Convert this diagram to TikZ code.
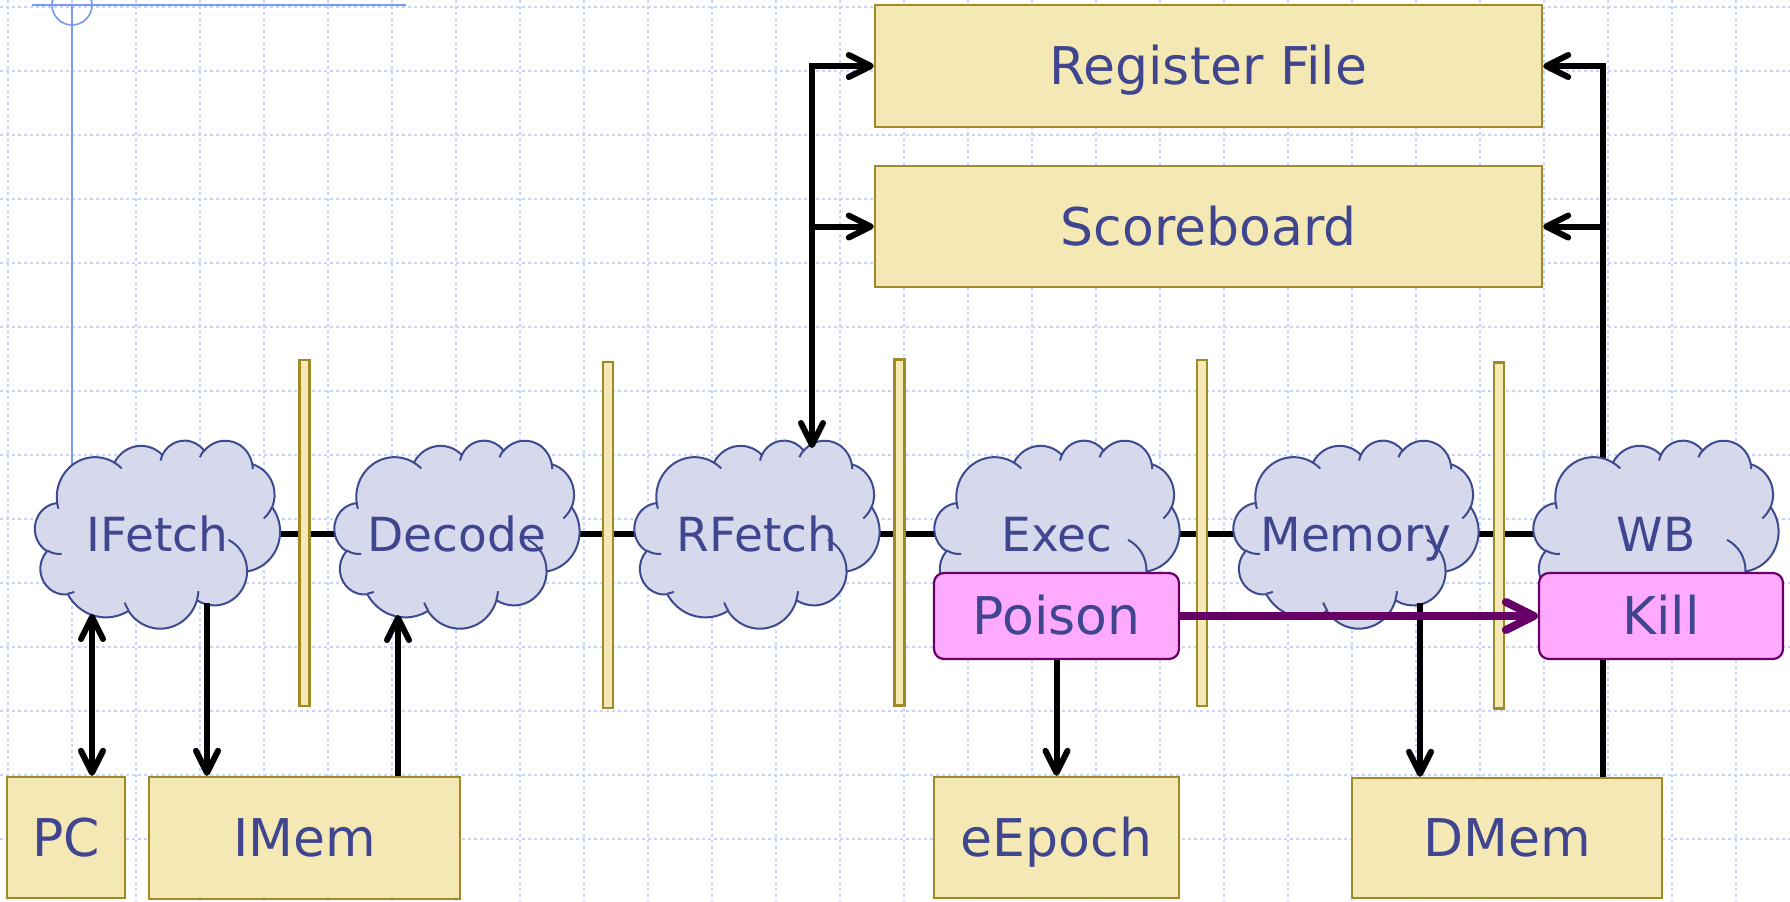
\documentclass[tikz,border=0pt]{standalone}
\usepackage{fontspec}
\setmainfont{DejaVu Sans}
\usetikzlibrary{arrows.meta}

\definecolor{gridblue}{HTML}{C8D4F8}
\definecolor{guideblue}{HTML}{7B9BF0}
\definecolor{unitfill}{HTML}{F4E8B4}
\definecolor{unitline}{HTML}{A08A28}
\definecolor{stagefill}{HTML}{D6D8EC}
\definecolor{stageline}{HTML}{3D4A8F}
\definecolor{labelblue}{HTML}{404590}
\definecolor{flagfill}{HTML}{FFAAFF}
\definecolor{plum}{HTML}{660066}

% one elliptical arc of the cloud outline: x radius, y radius, start and sweep
% given as visual angles, turned into the parametric angles that TikZ uses
\newcommand\puff[4]{%
  arc[x radius=#1, y radius=#2,
      start angle={atan2(#1*sin(#3),#2*cos(#3))},
      delta angle={Mod(atan2(#1*sin(#3+#4),#2*cos(#3+#4))-atan2(#1*sin(#3),#2*cos(#3)),360)}]}

% cloud outline in a 43.2 x 43.2 frame, centred on the given coordinate
\newcommand\stagecloud[1]{%
  \begin{scope}[shift={#1}, x=2.83565pt, y=-2.17593pt, shift={(-21.6,-21.6)}]
    \filldraw[stageedge] (3.900,14.370)
      \puff{6.753}{9.190}{-190.4875}{123.7805}
      \puff{5.333}{7.267}{-144.1024}{89.9452}
      \puff{4.365}{5.945}{-145.8079}{99.7230}
      \puff{4.857}{6.595}{-130.9861}{117.2417}
      \puff{5.333}{7.273}{-78.7089}{109.0269}
      \puff{6.775}{9.220}{-46.2673}{130.2690}
      \puff{5.785}{7.867}{0.6250}{114.0333}
      \puff{6.752}{9.215}{22.4516}{115.1726}
      \puff{7.720}{10.543}{66.2426}{75.7110}
      \puff{4.360}{5.918}{-274.9421}{146.7356}
      \puff{4.345}{5.945}{-246.8285}{152.5189} -- cycle;
    \draw[stageedge, fill=none]
      (4.693,26.177) \puff{4.345}{5.945}{86.7420}{26.4295}
      (6.928,34.899) \puff{4.360}{5.918}{73.6105}{11.4475}
      (16.478,39.090) \puff{6.752}{9.215}{137.6242}{14.0811}
      (28.827,34.751) \puff{6.752}{9.215}{6.4533}{15.9984}
      (34.129,22.954) \puff{5.785}{7.867}{-70.2924}{70.9174}
      (41.798,15.354) \puff{5.333}{7.273}{30.3180}{27.7515}
      (38.324,5.426) \puff{4.857}{6.595}{-13.7443}{14.8589}
      (29.078,3.952) \puff{4.857}{6.595}{-149.1815}{18.1954}
      (22.141,4.720) \puff{4.365}{5.945}{-163.4943}{17.6864}
      (14.000,5.192) \puff{6.753}{9.190}{-66.7070}{12.3194}
      (4.127,15.789) \puff{6.753}{9.190}{157.6544}{11.8582};
  \end{scope}}

\tikzset{
  gridline/.style={gridblue, line width=0.7pt, dash pattern=on 1.5pt off 1.5pt},
  guide/.style={guideblue, line width=0.85pt},
  stageedge/.style={draw=stageline, fill=stagefill, line width=1pt},
  unit/.style={draw=unitline, fill=unitfill, line width=1.2pt, text=labelblue,
    font=\fontsize{26}{31}\selectfont, inner sep=0pt, text height=18.95pt, text depth=0pt},
  flag/.style={draw=plum, fill=flagfill, line width=1.1pt, rounded corners=5pt,
    text=labelblue, font=\fontsize{26}{31}\selectfont, inner sep=0pt,
    text height=18.95pt, text depth=0pt, minimum height=43pt},
  stagelabel/.style={text=labelblue, font=\fontsize{23.5}{28}\selectfont,
    inner sep=0pt, text height=17.1pt, text depth=0pt},
  latch/.style={draw=unitline, fill=unitfill, line width=1.2pt, inner sep=0pt,
    minimum width=5pt, minimum height=173pt},
  wire/.style={black, line width=2.8pt},
  barb/.tip={Straight Barb[length=11pt, width=11pt, round]},
  arr/.style={wire, line width=3pt, -barb},
  arrs/.style={wire, line width=3pt, barb-barb},
  squash/.style={plum, line width=4pt, -{Straight Barb[length=14pt, width=14pt, round]}},
}

\begin{document}
\begin{tikzpicture}[x=0.5pt, y=-0.5pt]
\useasboundingbox (0,0) rectangle (1790,901);
\fill[white] (0,0) rectangle (1790,901);

% background grid
\foreach \gx in {0,...,27} \draw[gridline] ({8+64*\gx},0) -- ({8+64*\gx},901);
\foreach \gy in {0,...,13} \draw[gridline] (0,{7+64*\gy}) -- (1790,{7+64*\gy});

% stage centres
\coordinate (c1) at (157.5,534);
\coordinate (c2) at (457,534);
\coordinate (c3) at (757,534);
\coordinate (c4) at (1057,534);
\coordinate (c5) at (1356,534);
\coordinate (c6) at (1656,534);

% guide lines
\coordinate (g0) at (72,5);
\draw[guide] (32,5) -- (406,5);
\draw[guide] (g0) circle[radius=20];
\draw[guide] (g0) -- (g0 |- c1);

% state elements
\node[unit, minimum width=333.5pt, minimum height=61pt] (rf) at (1208.5,66) {Register File};
\node[unit, minimum width=333.5pt, minimum height=60.5pt] (sb) at (1208.5,226.5) {Scoreboard};
\node[unit, minimum width=59pt, minimum height=60.5pt] (pc) at (66,837.5) {PC};
\node[unit, minimum width=155.5pt, minimum height=61pt] (imem) at (304.5,838) {IMem};
\node[unit, minimum width=122.5pt, minimum height=60.5pt] (eepoch) at (1056.5,837.5) {eEpoch};
\node[unit, minimum width=155pt, minimum height=60pt] (dmem) at (1507,838) {DMem};

% pipeline backbone and write-back bus (behind the stages)
\draw[wire] (c1) -- (c6);
\coordinate (busR) at (1603,66);
\draw[arr] (dmem.north -| busR) |- (rf.east);
\draw[arr] (busR |- sb.east) -- (sb.east);

% stages
\stagecloud{(c1)}
\stagecloud{(c2)}
\stagecloud{(c3)}
\stagecloud{(c4)}
\stagecloud{(c5)}
\stagecloud{(c6)}
\node[stagelabel] (ifetch) at (c1) {IFetch};
\node[stagelabel] (decode) at (c2) {Decode};
\node[stagelabel] (rfetch) at (c3) {RFetch};
\node[stagelabel] (exec) at (c4) {Exec};
\node[stagelabel] (memory) at (c5) {Memory};
\node[stagelabel] (wb) at (c6) {WB};

% pipeline registers
\node[latch] (latch1) at (304.5,533) {};
\node[latch] (latch2) at (608,535) {};
\node[latch] (latch3) at (899.5,532.5) {};
\node[latch] (latch4) at (1202,533) {};
\node[latch] (latch5) at (1499,535.5) {};

% poison / kill
\node[flag, minimum width=122.5pt] (poison) at (1056.5,616) {Poison};
\node[flag, minimum width=122pt] (kill) at (1661,616) {Kill};

% register fetch bus
\coordinate (rfin) at (812,448);
\draw[arrs] (rf.west) -| (rfin);
\draw[arr] (rfin |- sb.west) -- (sb.west);

% memory ports
\coordinate (pcin) at (92,614);
\coordinate (imout) at (207,603);
\coordinate (decin) at (398,615);
\coordinate (memout) at (1420,603);
\draw[arrs] (pcin) -- (pcin |- pc.north);
\draw[arr] (imout) -- (imout |- imem.north);
\draw[arr] (decin |- imem.north) -- (decin);
\draw[arr] (poison.south) -- (eepoch.north);
\draw[arr] (memout) -- (memout |- dmem.north);

\draw[squash] (poison.east) -- (kill.west);
\end{tikzpicture}
\end{document}
